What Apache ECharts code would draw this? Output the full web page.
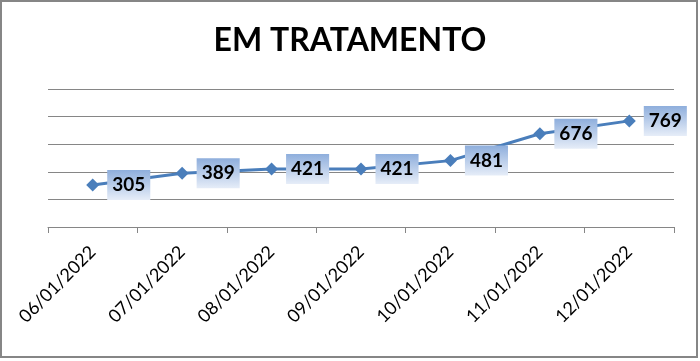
<!DOCTYPE html>
<html>
<head>
<meta charset="utf-8">
<script src="https://cdn.jsdelivr.net/npm/echarts@6/dist/echarts.min.js"></script>
<style>
html,body{margin:0;padding:0;background:#fff;}
#c{width:700px;height:361px;}
</style>
</head>
<body>
<div id="c"></div>
<script>
var categories = ['06/01/2022','07/01/2022','08/01/2022','09/01/2022','10/01/2022','11/01/2022','12/01/2022'];
var values = [305, 389, 421, 421, 481, 676, 769];
var titleText = 'EM TRATAMENTO';

var chart = echarts.init(document.getElementById('c'), null, {renderer:'canvas'});
var grad = new echarts.graphic.LinearGradient(0,0,0,1,[
  {offset:0,color:'#8eaedc'},
  {offset:1,color:'#e6edf8'}
]);
chart.setOption({
  animation:false,
  backgroundColor:'#fff',
  title:{
    text:titleText,
    left:'center',
    top:20,
    textStyle:{fontFamily:'Lato',fontWeight:'bold',fontSize:32,color:'#000'}
  },
  graphic:[{
    type:'rect',
    shape:{x:1,y:1,width:696,height:356},
    style:{fill:'none',stroke:'#868686',lineWidth:2},
    silent:true
  }],
  grid:{left:48,right:26,top:89,bottom:134},
  xAxis:{
    type:'category',
    data:categories,
    boundaryGap:true,
    axisLine:{lineStyle:{color:'#868686',width:1}},
    axisTick:{show:true,length:6,lineStyle:{color:'#868686'}},
    axisLabel:{rotate:45,fontFamily:'Lato',fontSize:18,color:'#000',margin:22,interval:0}
  },
  yAxis:{
    type:'value',
    min:0,max:1000,interval:200,
    axisLine:{show:false},
    axisTick:{show:false},
    axisLabel:{show:false},
    splitLine:{lineStyle:{color:'#868686',width:1}}
  },
  series:[{
    type:'line',
    data:values,
    symbol:'diamond',
    symbolSize:13,
    lineStyle:{color:'#4a7ebb',width:3},
    itemStyle:{color:'#4a7ebb'},
    label:{
      show:true,
      position:'right',
      distance:8,
      fontFamily:'Lato',
      fontWeight:'bold',
      fontSize:19,
      lineHeight:19,
      color:'#000',
      backgroundColor:grad,
      padding:[6,5,5,5]
    }
  }]
});
</script>
</body>
</html>
